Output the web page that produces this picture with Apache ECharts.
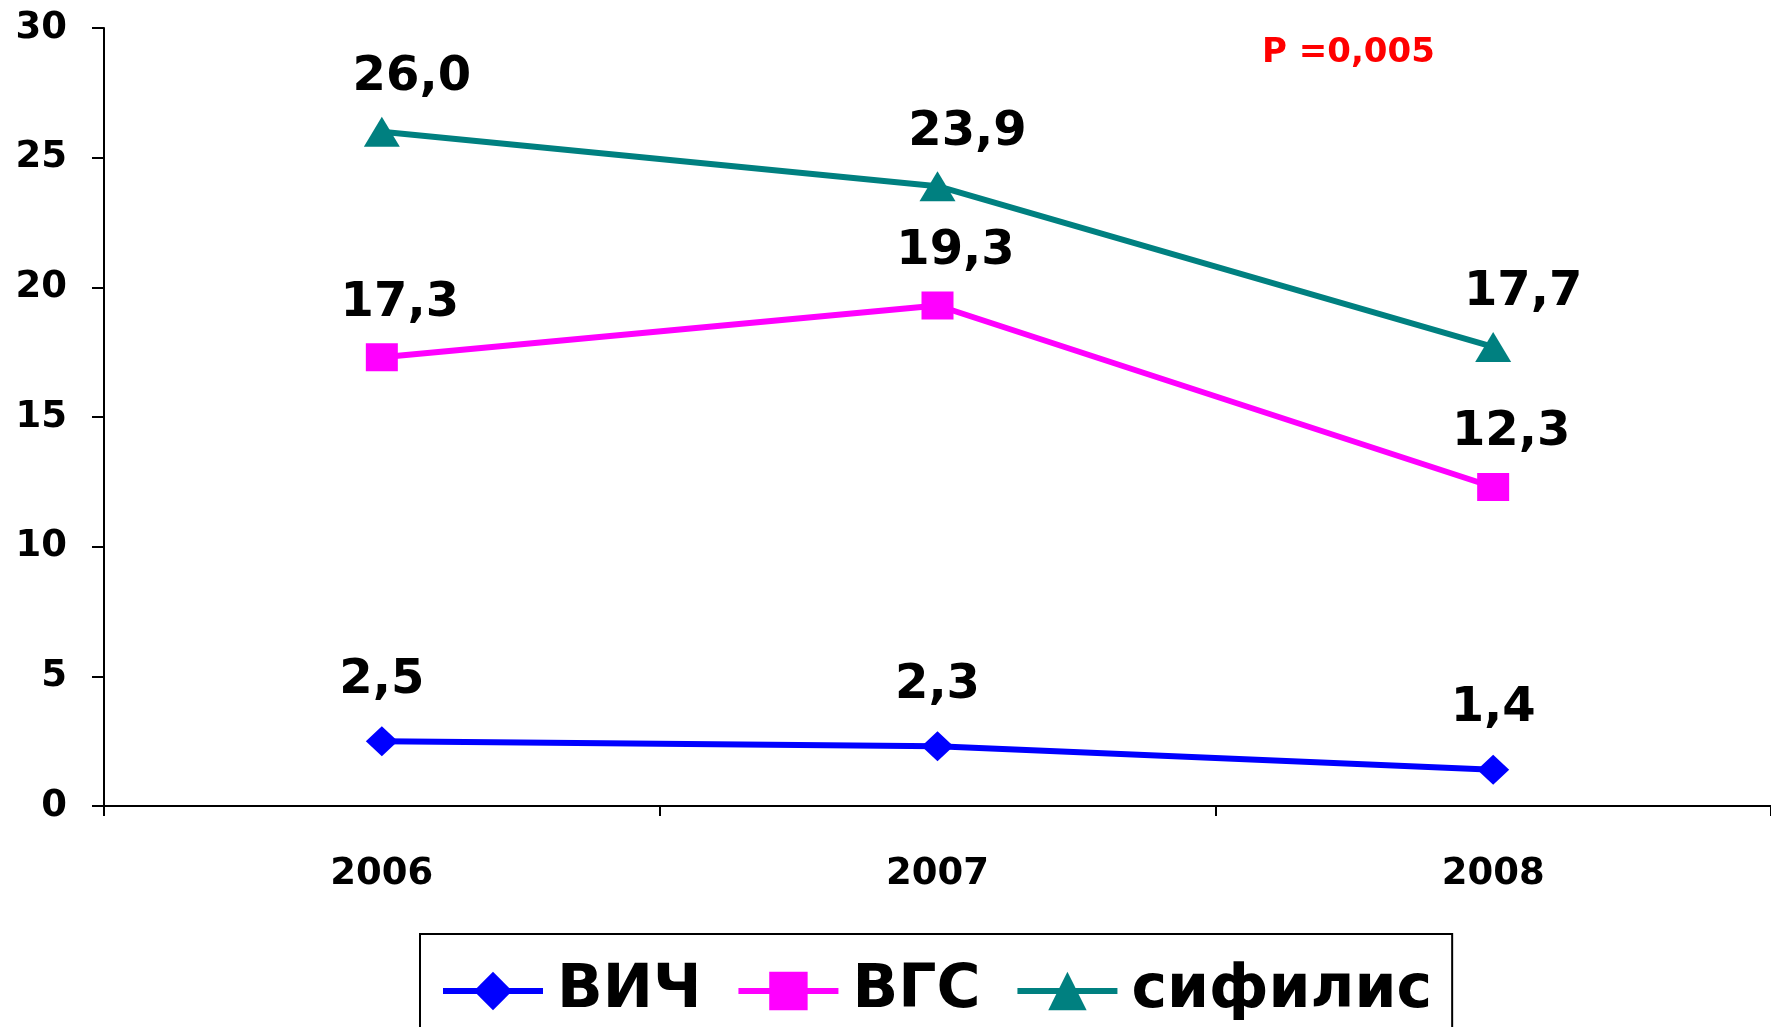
<!DOCTYPE html>
<html>
<head>
<meta charset="utf-8">
<script src="https://cdn.jsdelivr.net/npm/echarts@6/dist/echarts.min.js"></script>
<style>
  html, body { margin: 0; padding: 0; background: #fff; }
  #chart { width: 1771px; height: 1027px; }
</style>
</head>
<body>
<div id="chart"></div>
<script>
// данные
const years = ["2006", "2007", "2008"];
const hiv = [2.5, 2.3, 1.4];
const hcv = [17.3, 19.3, 12.3];
const syphilis = [26.0, 23.9, 17.7];
const seriesNames = ["ВИЧ", "ВГС", "сифилис"];
const pText = "P =0,005";

const FONT = "DejaVu Sans";
const chart = echarts.init(document.getElementById("chart"));

function fmt(p) {
  return p.value.toFixed(1).replace(".", ",");
}

function makeSeries(name, data, color, symbol, size, dx, dist) {
  return {
    name: name,
    type: "line",
    data: data,
    symbol: symbol,
    symbolSize: size,
    color: color,
    lineStyle: { color: color, width: 6 },
    itemStyle: { color: color },
    label: {
      show: true,
      position: "top",
      distance: dist,
      offset: [dx, 0],
      formatter: fmt,
      color: "#000",
      fontFamily: FONT,
      fontWeight: "bold",
      fontSize: 48,
    },
    animation: false,
  };
}

const option = {
  backgroundColor: "#fff",
  animation: false,
  grid: { left: 104, top: 28, width: 1671, height: 778 },
  xAxis: {
    type: "category",
    data: years,
    boundaryGap: true,
    axisLine: { lineStyle: { color: "#000", width: 2 } },
    axisTick: { show: true, length: 10, lineStyle: { color: "#000", width: 2 } },
    axisLabel: {
      margin: 50,
      color: "#000",
      fontFamily: FONT,
      fontWeight: "bold",
      fontSize: 37,
    },
    splitLine: { show: false },
  },
  yAxis: {
    type: "value",
    min: 0,
    max: 30,
    interval: 5,
    axisLine: { show: true, lineStyle: { color: "#000", width: 2 } },
    axisTick: { show: true, length: 12, lineStyle: { color: "#000", width: 2 } },
    axisLabel: {
      margin: 37,
      color: "#000",
      fontFamily: FONT,
      fontWeight: "bold",
      fontSize: 37,
    },
    splitLine: { show: false },
  },
  legend: {
    left: 420,
    top: 934,
    padding: [27, 20, 40, 20],
    borderColor: "#000",
    borderWidth: 2,
    itemGap: 34,
    itemWidth: 100,
    itemHeight: 48,
    lineStyle: { width: 6 },
    data: seriesNames,
    textStyle: {
      color: "#000",
      fontFamily: FONT,
      fontWeight: "bold",
      fontSize: 60,
      padding: [0, 0, 0, 9],
    },
  },
  graphic: [
    {
      type: "text",
      left: 1262,
      top: 36,
      style: {
        text: pText,
        fill: "#ff0000",
        font: "bold 34px 'DejaVu Sans'",
      },
    },
  ],
  series: [
    makeSeries(seriesNames[0], hiv, "#0000ff", "diamond", [32, 30], 0, 22),
    makeSeries(seriesNames[1], hcv, "#ff00ff", "rect", [32, 28], 18, 16),
    makeSeries(seriesNames[2], syphilis, "#008080", "triangle", [36, 30], 30, 15),
  ],
};

option && chart.setOption(option);
</script>
</body>
</html>
